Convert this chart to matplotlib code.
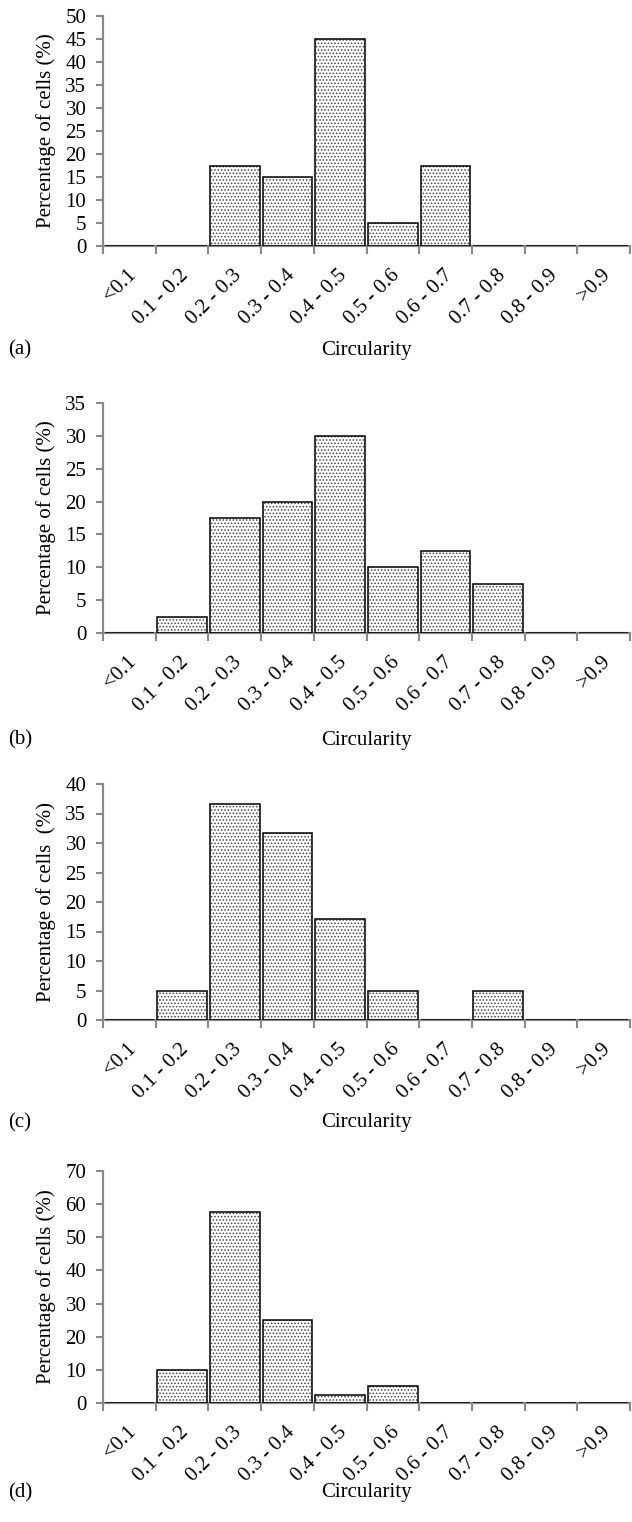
import matplotlib
matplotlib.use("Agg")
import matplotlib.pyplot as plt
import numpy as np

categories = ["<0.1", "0.1 - 0.2", "0.2 - 0.3", "0.3 - 0.4", "0.4 - 0.5",
              "0.5 - 0.6", "0.6 - 0.7", "0.7 - 0.8", "0.8 - 0.9", ">0.9"]
values_a = [0, 0, 17.5, 15, 45, 5, 17.5, 0, 0, 0]
values_b = [0, 2.5, 17.5, 20, 30, 10, 12.5, 7.5, 0, 0]
values_c = [0, 4.9, 36.6, 31.7, 17.1, 4.9, 0, 4.9, 0, 0]
values_d = [0, 10, 57.5, 25, 2.5, 5, 0, 0, 0, 0]
panel_labels = ["(a)", "(b)", "(c)", "(d)"]
ylabels = ["Percentage of cells (%)", "Percentage of cells (%)",
           "Percentage of cells  (%)", "Percentage of cells (%)"]
ymaxes = [50, 35, 40, 70]
ysteps = [5, 5, 5, 10]

plt.rcParams['font.family'] = ['Liberation Serif', 'DejaVu Serif']
plt.rcParams['hatch.linewidth'] = 0.7
plt.rcParams['hatch.color'] = '#444444'

W, H = 632, 1522
fig = plt.figure(figsize=(W / 100, H / 100), dpi=100)

# pixel boxes: (top, bottom)
boxes = [(16, 246), (403, 633), (784, 1020), (1171, 1403)]
left_px, right_px = 103, 630
label_y = [350, 740, 1123, 1493]
series = [values_a, values_b, values_c, values_d]
spine_col = '#898989'
fs = 15

for i, vals in enumerate(series):
    top, bot = boxes[i]
    ax = fig.add_axes([left_px / W, 1 - bot / H, (right_px - left_px) / W, (bot - top) / H])
    x = np.arange(len(categories))
    ax.bar(x, vals, width=0.94, color='white', edgecolor='#444444', linewidth=0,
           hatch='.....', zorder=2)
    ax.bar(x, vals, width=0.94, fill=False, edgecolor='black', linewidth=1.1, zorder=3)
    ax.set_xlim(-0.5, len(categories) - 0.5)
    ax.set_ylim(0, ymaxes[i])
    ax.set_yticks(np.arange(0, ymaxes[i] + 0.1, ysteps[i]))
    ax.set_xticks(x + 0.08)
    ax.set_xticklabels(categories, rotation=45, ha='right', va='center',
                       rotation_mode='anchor', fontsize=fs)
    ax.set_xticks(np.arange(-0.5, len(categories), 1), minor=True)
    ax.tick_params(axis='x', which='major', length=0, pad=19)
    ax.tick_params(axis='x', which='minor', length=6, width=1.5, color=spine_col, direction='out')
    ax.tick_params(axis='y', which='major', length=5, width=1.5, color=spine_col,
                   direction='out', pad=7, labelsize=fs)
    for s in ['top', 'right']:
        ax.spines[s].set_visible(False)
    for s in ['left', 'bottom']:
        ax.spines[s].set_color(spine_col)
        ax.spines[s].set_linewidth(1.6)
    ax.set_ylabel(ylabels[i], fontsize=fs)
    ax.yaxis.set_label_coords((56 - left_px) / (right_px - left_px), 0.5)
    fig.text(366 / W, 1 - label_y[i] / H, "Circularity", ha='center', va='center', fontsize=fs)
    fig.text(8 / W, 1 - label_y[i] / H, panel_labels[i], ha='left', va='center', fontsize=fs)

fig.savefig("out.png", dpi=100)
